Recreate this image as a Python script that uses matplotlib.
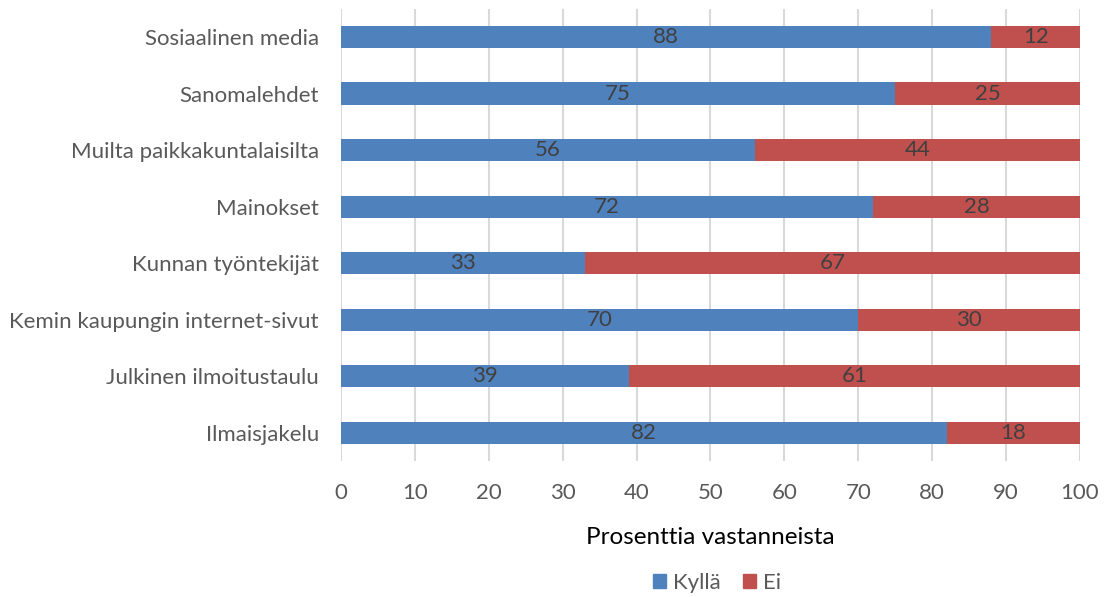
import matplotlib
matplotlib.use("Agg")
import matplotlib.pyplot as plt
from matplotlib.patches import Patch

categories = ["Sosiaalinen media", "Sanomalehdet", "Muilta paikkakuntalaisilta",
              "Mainokset", "Kunnan työntekijät", "Kemin kaupungin internet-sivut",
              "Julkinen ilmoitustaulu", "Ilmaisjakelu"]
kylla = [88, 75, 56, 72, 33, 70, 39, 82]
ei = [12, 25, 44, 28, 67, 30, 61, 18]
xticks = [0, 10, 20, 30, 40, 50, 60, 70, 80, 90, 100]

plt.rcParams['font.family'] = ['Lato', 'DejaVu Sans']
txt = '#595959'
blue = '#4F81BD'
red = '#C0504D'

fig = plt.figure(figsize=(11.09, 5.97), dpi=100)
ax = fig.add_axes([0.3075, 0.2278, 0.6663, 0.7576])

n = len(categories)
ypos = list(range(n))[::-1]
h = 0.39
b1 = ax.barh(ypos, kylla, height=h, color=blue, zorder=3)
b2 = ax.barh(ypos, ei, left=kylla, height=h, color=red, zorder=3)
ax.bar_label(b1, labels=[str(v) for v in kylla], label_type='center', color='#404040', fontsize=16)
ax.bar_label(b2, labels=[str(v) for v in ei], label_type='center', color='#404040', fontsize=16)

ax.set_xlim(0, 100)
ax.set_ylim(-0.5, n - 0.5)
ax.set_xticks(xticks)
ax.set_xticklabels([str(x) for x in xticks], fontsize=16, color=txt)
ax.set_yticks(ypos)
ax.set_yticklabels(categories, fontsize=16, color=txt)
ax.tick_params(axis='both', length=0)
ax.tick_params(axis='x', pad=16)
ax.tick_params(axis='y', pad=16)
ax.grid(axis='x', color='#D9D9D9', linewidth=1.5, zorder=0)
for s in ax.spines.values():
    s.set_visible(False)
ax.set_xlabel("Prosenttia vastanneista", fontsize=17.5, color='black', labelpad=17)

handles = [Patch(color=blue, label='Kyllä'), Patch(color=red, label='Ei')]
fig.legend(handles=handles, loc='center', bbox_to_anchor=(717/1109, 1-583/597), ncol=2,
           frameon=False, fontsize=16, labelcolor=txt, handlelength=0.6, handleheight=0.6,
           columnspacing=1.0, handletextpad=0.3)

fig.savefig("out.png", dpi=100)
